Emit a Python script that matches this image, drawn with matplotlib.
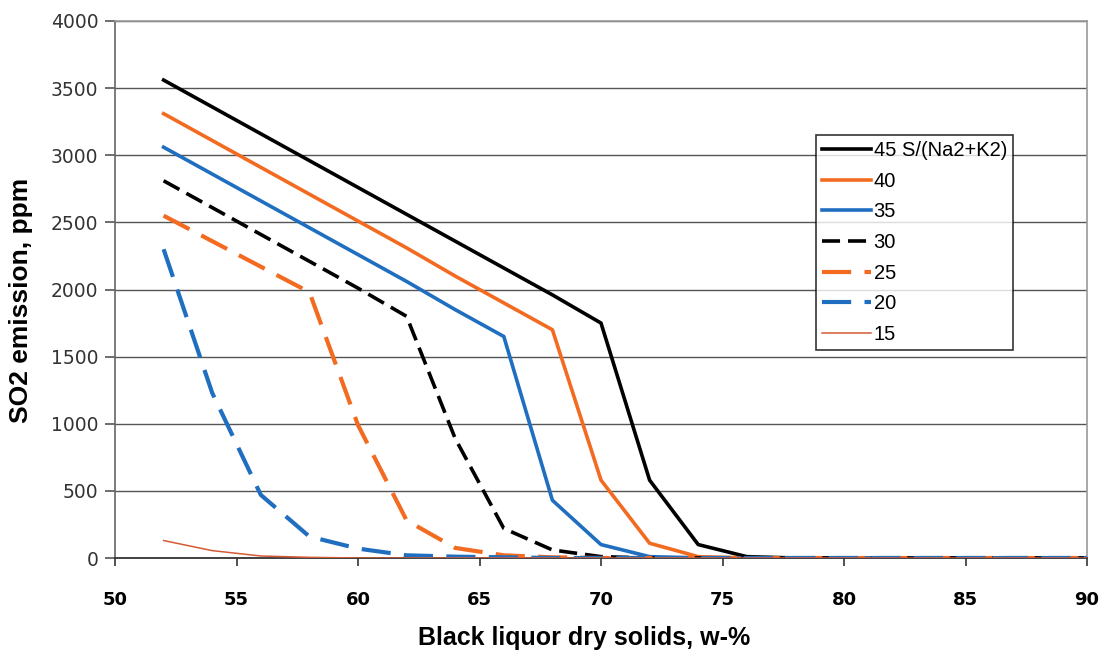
# SO2 emission vs black liquor dry solids, one curve per S/(Na2+K2) ratio
import numpy as np
import matplotlib.pyplot as plt

plt.rcParams['font.family'] = ['Liberation Sans', 'DejaVu Sans']

X_TAIL = [78, 80, 82, 84, 86, 88, 90]

x45 = [52, 54, 56, 58, 60, 62, 64, 66, 68, 70, 72, 74, 76] + X_TAIL
y45 = [3560, 3360, 3160, 2960, 2760, 2560, 2360, 2160, 1960, 1750, 580, 100, 10] + [0] * 7

x40 = [52, 54, 56, 58, 60, 62, 64, 66, 68, 70, 72, 74, 76] + X_TAIL
y40 = [3310, 3110, 2910, 2710, 2510, 2310, 2100, 1900, 1700, 580, 110, 10, 0] + [0] * 7

x35 = [52, 54, 56, 58, 60, 62, 64, 66, 68, 70, 72, 74, 76] + X_TAIL
y35 = [3060, 2860, 2660, 2460, 2260, 2060, 1850, 1650, 430, 100, 10, 0, 0] + [0] * 7

x30 = [52, 54, 56, 58, 60, 62, 64, 66, 68, 70, 72, 74, 76] + X_TAIL
y30 = [2810, 2610, 2410, 2210, 2010, 1800, 890, 220, 60, 10, 0, 0, 0] + [0] * 7

x25 = [52, 54, 56, 58, 60, 62, 64, 66, 68, 70, 72, 74, 76] + X_TAIL
y25 = [2550, 2360, 2170, 1980, 990, 280, 75, 20, 5, 0, 0, 0, 0] + [0] * 7

x20 = [52, 54, 56, 58, 60, 62, 64, 66, 68, 70, 72, 74, 76] + X_TAIL
y20 = [2300, 1230, 470, 160, 70, 20, 10, 5, 0, 0, 0, 0, 0] + [0] * 7

x15 = [52, 54, 56, 58, 60, 62, 64, 66, 68, 70, 72, 74, 76] + X_TAIL
y15 = [130, 55, 15, 5, 0, 0, 0, 0, 0, 0, 0, 0, 0] + [0] * 7

ORANGE = '#F26B21'
BLUE = '#1F6EC0'
RED = '#D45A36'

fig = plt.figure(figsize=(11.02, 6.53), dpi=100, facecolor='white')
ax = fig.add_axes([115 / 1102, 1 - 558 / 653, 972 / 1102, 537 / 653])

for yv in range(500, 4001, 500):
    ax.axhline(yv, color='#555555', lw=1.0, zorder=1)

ax.plot(x45, y45, color='black', lw=2.6, label='45 S/(Na2+K2)', zorder=3)
ax.plot(x40, y40, color=ORANGE, lw=2.6, label='40', zorder=3)
ax.plot(x35, y35, color=BLUE, lw=2.6, label='35', zorder=3)
ax.plot(x30, y30, color='black', lw=2.6, ls=(0, (5, 2.2)), label='30', zorder=3)
ax.plot(x25, y25, color=ORANGE, lw=3.0, ls=(0, (7, 3.2)), label='25', zorder=3)
ax.plot(x20, y20, color=BLUE, lw=3.0, ls=(0, (7, 3.2)), label='20', zorder=3)
ax.plot(x15, y15, color=RED, lw=1.1, label='15', zorder=4)

ax.set_xlim(50, 90)
ax.set_ylim(0, 4000)
ax.set_xticks(np.arange(50, 91, 5))
ax.set_yticks(np.arange(0, 4001, 500))
ax.tick_params(axis='x', direction='out', length=6, width=1.2, colors='#333333',
               labelsize=13, labelcolor='black', pad=18)
ax.tick_params(axis='y', direction='out', length=7, width=1.2, colors='#555555',
               labelsize=13.5, labelcolor='#333333', pad=5)
for lab in ax.get_xticklabels():
    lab.set_fontweight('bold')
    lab.set_family('DejaVu Sans')
for lab in ax.get_yticklabels():
    lab.set_family('DejaVu Sans')

ax.spines['left'].set_color('#666666')
ax.spines['left'].set_linewidth(1.2)
ax.spines['bottom'].set_color('#333333')
ax.spines['bottom'].set_linewidth(1.3)
ax.spines['top'].set_color('#999999')
ax.spines['right'].set_color('#999999')
ax.spines['top'].set_linewidth(1.2)
ax.spines['right'].set_linewidth(1.2)

ax.set_ylabel('SO2 emission, ppm', fontsize=19, fontweight='bold')
ax.set_xlabel('Black liquor dry solids, w-%', fontsize=18, fontweight='bold')
ax.yaxis.set_label_coords(-94 / 972, (558 - 300) / 537)
ax.xaxis.set_label_coords((584 - 115) / 972, -(638 - 558) / 537)
ax.xaxis.label.set_va('center')
ax.yaxis.label.set_va('center')

leg = ax.legend(loc='upper right', bbox_to_anchor=((1013 - 115) / 972, (558 - 135) / 537),
                frameon=True, fancybox=False, edgecolor='black', fontsize=14.5,
                handlelength=2.4, labelspacing=0.58, borderpad=0.3, handletextpad=0.15,
                borderaxespad=0)
leg.get_frame().set_linewidth(1.2)
leg.set_zorder(5)

plt.savefig('out.png', dpi=100, facecolor='white')
